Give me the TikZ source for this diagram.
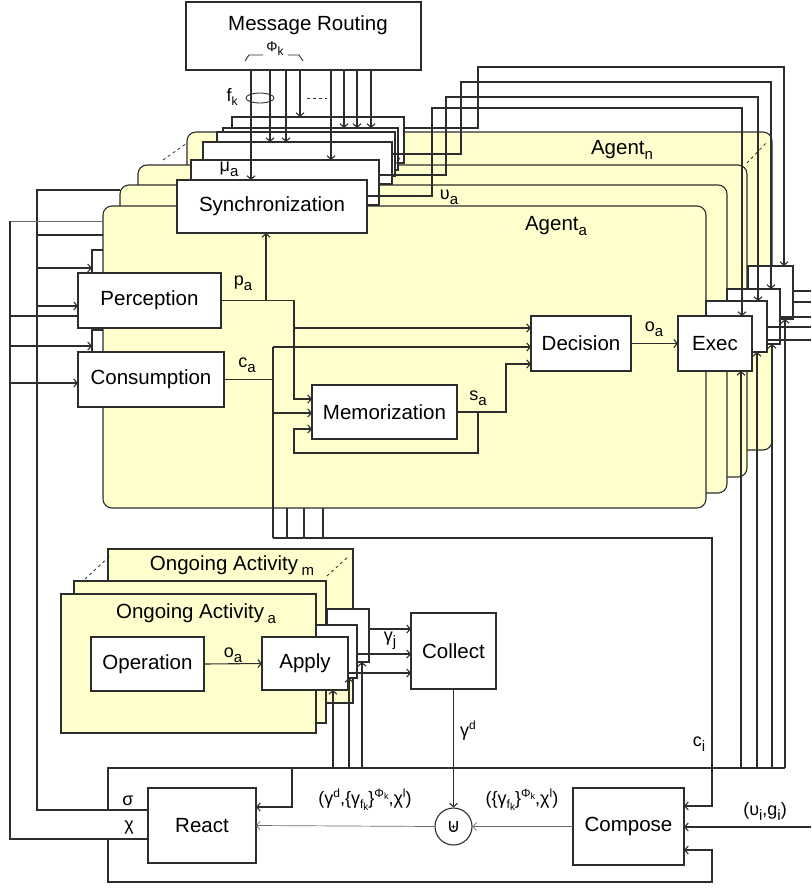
\documentclass[tikz,border=0pt]{standalone}
\usepackage{fontspec}
\setmainfont{Liberation Sans}
\newfontfamily\dejavu{DejaVu Sans}
\usetikzlibrary{arrows.meta,calc}
\definecolor{ay}{RGB}{255,255,206}
\definecolor{lc}{RGB}{45,45,45}
\newcommand\sbs[1]{\raisebox{-5pt}{\fontsize{15}{15}\selectfont #1}}
\newcommand\ssb[1]{\raisebox{-4pt}{\fontsize{12}{12}\selectfont #1}}
\newcommand\ssp[1]{\raisebox{7pt}{\fontsize{12}{12}\selectfont #1}}
\newcommand\gfk{\{γ\ssb{f\raisebox{-2pt}{\fontsize{10}{10}\selectfont k}}\}\ssp{Φ\raisebox{-2pt}{\fontsize{9}{9}\selectfont k}}}
\tikzset{
 ln/.style={line width=1.1pt, draw=lc},
 thinln/.style={line width=0.7pt, draw=lc!70},
 ar/.style={ln, -{Straight Barb[length=3.5pt,width=8pt]}},
 tar/.style={thinln, -{Straight Barb[length=3.5pt,width=8pt]}},
 wb/.style={draw=lc, line width=1.1pt, fill=white, inner sep=0pt, outer sep=0pt, anchor=north west, font=\fontsize{20.5}{24}\selectfont},
 yb/.style={wb, fill=ay, rounded corners=9pt},
 ob/.style={wb, fill=ay},
 lab/.style={inner sep=0pt, outer sep=0pt, font=\fontsize{18}{20}\selectfont},
 big/.style={inner sep=0pt, outer sep=0pt, font=\fontsize{20.5}{24}\selectfont},
 dsh/.style={line width=0.8pt, draw=lc, dash pattern=on 3pt off 3pt},
}
\begin{document}
\begin{tikzpicture}[x=1pt,y=-1pt]
\useasboundingbox (0,0) rectangle (811,888);
% ---- agents (back) ----
\node[yb, minimum width=585pt, minimum height=318pt] (agn) at (187,132) {};
\node[yb, minimum width=609pt, minimum height=312pt] (ag3) at (138,165) {};
\node[yb, minimum width=607pt, minimum height=308pt] (ag2) at (120,185) {};
\draw[dsh] (163,160) -- (187,143);
\draw[dsh] (747,163) -- (767,142);
\node[big] (agnl) at (622,150) {Agent\sbs{n}};
% ---- synchronization stack ----
\node[wb, minimum width=172pt, minimum height=46pt] (sb6) at (232,117) {};
\node[wb, minimum width=175pt, minimum height=42pt] (sb5) at (223,128) {};
\node[wb, minimum width=178pt, minimum height=44pt] (sb4) at (217,132) {};
\node[wb, minimum width=189pt, minimum height=42pt] (sb3) at (203,142) {};
\node[wb, minimum width=188pt, minimum height=45pt] (sb2) at (191,160) {};
\draw[dsh] (395,165) -- (402,155);
\node[wb, minimum width=140pt, minimum height=55pt] (pcp) at (92,250) {};
\node[wb, minimum width=140pt, minimum height=55pt] (ccp) at (92,330) {};
% ---- agent a ----
\node[yb, minimum width=603pt, minimum height=302pt] (aga) at (103,206) {};
\node[big] (agal) at (556,226) {Agent\sbs{a}};
\node[wb, minimum width=190pt, minimum height=53pt] (sync) at (177,180) {Synchronization};
\node[wb, minimum width=143pt, minimum height=55pt] (perc) at (78,273) {Perception};
\node[wb, minimum width=146pt, minimum height=55pt] (cons) at (78,352) {Consumption};
\node[wb, minimum width=145pt, minimum height=54pt] (memo) at (312,385) {Memorization};
\node[wb, minimum width=100pt, minimum height=55pt] (dec) at (531,316) {Decision};
\node[wb, minimum width=45pt, minimum height=53pt] (ex4) at (748,266) {};
\node[wb, minimum width=53pt, minimum height=55pt] (ex3) at (727,289) {};
\node[wb, minimum width=61pt, minimum height=51pt] (ex2) at (706,301) {};
\node[wb, minimum width=74pt, minimum height=55pt] (exec) at (678,316) {Exec};
% ---- message routing ----
\node[wb, minimum width=235pt, minimum height=68pt] (mr) at (186,2) {};
\node[big] (mrl) at (308,25) {Message Routing};
\node[inner sep=0pt, font=\fontsize{14}{15}\selectfont] (phik) at (275,49) {Φ\ssb{k}};
\draw[ln, line width=0.9pt] (245,61) -- (249,55) -- (263,55);
\draw[ln, line width=0.9pt] (288,55) -- (299,55) -- (303,61);
\node[lab] (fk) at (232,97) {f\ssb{k}};
\draw[ln, line width=0.9pt] (260,98) ellipse [x radius=14pt, y radius=5pt];
\draw[dsh] (307,98) -- (327,98);
\node[lab] (mua) at (229,169) {μ\sbs{a}};
\node[lab] (upa) at (449,197) {υ\sbs{a}};
\node[lab] (pal) at (243,283) {p\sbs{a}};
\node[lab] (cal) at (247,365) {c\sbs{a}};
\node[lab] (sal) at (478,398) {s\sbs{a}};
\node[lab] (oal) at (654,329) {o\sbs{a}};
% ---- ongoing activities ----
\node[ob, minimum width=245pt, minimum height=154pt] (oam) at (108,549) {};
\node[ob, minimum width=252pt, minimum height=142pt] (oa2) at (74,581) {};
\draw[dsh] (85,579) -- (110,556);
\draw[dsh] (327,576) -- (349,556);
\node[big] (oaml) at (232,566) {Ongoing Activity\,\sbs{m}};
\node[wb, minimum width=42pt, minimum height=53pt] (ac2) at (327,609) {};
\node[wb, minimum width=41pt, minimum height=53pt] (ac1) at (316,625) {};
\node[ob, minimum width=255pt, minimum height=139pt] (oaa) at (61,594) {};
\node[big] (oaal) at (196,614) {Ongoing Activity\,\sbs{a}};
\node[wb, minimum width=113pt, minimum height=54pt] (oper) at (91,637) {Operation};
\node[wb, minimum width=86pt, minimum height=53pt] (apply) at (262,637) {Apply};
\node[lab] (oal2) at (233,655) {o\sbs{a}};
\node[wb, minimum width=85pt, minimum height=76pt] (coll) at (411,613) {Collect};
\node[lab] (gjl) at (390,641) {γ\sbs{j}};
% ---- bottom ----
\node[wb, minimum width=108pt, minimum height=75pt] (react) at (148,788) {React};
\node[wb, minimum width=111pt, minimum height=77pt] (comp) at (573,788) {Compose};
\node[draw=lc, line width=1.1pt, circle, minimum size=37pt, inner sep=0pt, fill=white, font=\dejavu\fontsize{19}{19}\selectfont] (cup) at (453.5,826.5) {⊎};
\node[lab] (gdl) at (468,731) {γ\ssp{d}};
\node[lab] (cil) at (699,744) {c\sbs{i}};
\node[lab] (sgl) at (128,801) {σ};
\node[lab] (chl) at (129,828) {χ};
\node[lab, font=\fontsize{18}{19}\selectfont] (l1) at (365,800) {(γ\ssp{d},\gfk,χ\ssp{l})};
\node[lab, font=\fontsize{18}{19}\selectfont] (l2) at (522,800) {(\gfk,χ\ssp{l})};
\node[lab] (ugl) at (765,811) {(υ\sbs{i},g\sbs{i})};
% ==== connectors ====
% message routing
\draw[ar] ($(mr.south)+(-52.5,0)$) -- ($(sync.north)+(-21,0)$);
\draw[ar] ($(mr.south)+(-33.5,0)$) -- ($(sb3.north)+(-27.5,0)$);
\draw[ar] ($(mr.south)+(-17.5,0)$) -- ($(sb3.north)+(-11.5,0)$);
\draw[ar] ($(mr.south)+(-3.5,0)$) -- ($(sb6.north)+(-18,0)$);
\draw[ar] ($(mr.south)+(27.5,0)$) -- ($(sb2.north)+(46,0)$);
\draw[ar] ($(mr.south)+(40.5,0)$) -- ($(sb5.north)+(33.5,0)$);
\draw[ar] ($(mr.south)+(53.5,0)$) -- ($(sb5.north)+(46.5,0)$);
\draw[ar] ($(mr.south)+(67.5,0)$) -- ($(sb5.north)+(60.5,0)$);
% upsilon loops
\draw[ar] ($(sync.east)+(0,-10.5)$) -- (432,196) -- (432,108) -- (742,108) -- ($(exec.north)+(27,0)$);
\draw[ar] ($(sb2.east)+(0,-7.5)$) -- (446,175) -- (446,97) -- (758,97) -- ($(ex2.north)+(21.5,0)$);
\draw[ar] ($(sb3.east)+(0,-9)$) -- (461,154) -- (461,82) -- (771,82) -- ($(ex3.north)+(17.5,0)$);
\draw[ar] ($(sb6.east)+(0,-12)$) -- (478,128) -- (478,67) -- (784,67) -- ($(ex4.north)+(13.5,0)$);
% p_a
\draw[ar] (perc.east) -| ($(memo.west)+(-18,-13)$) -- ($(memo.west)+(0,-13)$);
\draw[ar] ($(perc.east)+(45,0)$) -- ($(sync.south)+(-6,0)$);
\draw[ar] (294,328) -- ($(dec.west)+(0,-15.5)$);
% c_a
\draw[ln] (cons.east) -- (273,379.5);
\draw[ln] (273,347) -- (273,538);
\draw[ar] (273,347) -- ($(dec.west)+(0,3.5)$);
\draw[ar] (273,413) -- ($(memo.west)+(0,1)$);
% memorization
\draw[ar] (478,412) -- (478,453) -- (294,453) -- (294,429) -- ($(memo.west)+(0,17)$);
\draw[ar] (memo.east) -- (506,412) -- (506,364) -- ($(dec.west)+(0,20.5)$);
\draw[ar] (dec.east) -- (exec.west);
% left inputs
\draw[ln] ($(react.west)+(0,-15.5)$) -- (37,810) -- (37,190) -- (120,190);
\draw[thinln] (103,221) -- (10,221);
\draw[ln] ($(react.west)+(0,13.5)$) -- (10,839) -- (10,221);
\draw[ln] (37,235) -- (103,235);
\draw[ar] (37,268) -- ($(pcp.west)+(0,-9.5)$);
\draw[ar] (37,306) -- ($(perc.west)+(0,5.5)$);
\draw[ln] (10,316) -- ($(perc.west)+(0,15.5)$);
\draw[ar] (10,346) -- ($(ccp.west)+(0,-11.5)$);
\draw[ar] (10,383) -- ($(cons.west)+(0,3.5)$);
% sigma broadcast
\draw[ln] (108,810) -- (108,768) -- (785,768);
\draw[ar] (292,768) -- (292,807) -- ($(react.east)+(0,-18.5)$);
\draw[ar] (108,839) -- (108,882) -- (712,882) -- (712,850) -- ($(comp.east)+(0,23.5)$);
\draw[ar] (273,538) -- (712,538) -- (712,806) -- ($(comp.east)+(0,-20.5)$);
\draw[ln] (287,508) -- (287,538);
\draw[ln] (304,508) -- (304,538);
\draw[ln] (323,508) -- (323,538);
\draw[ar] (811,827) -- ($(comp.east)+(0,0.5)$);
\draw[tar] (comp.west) -- (cup.east);
\draw[tar] (cup.west) -- (react.east);
\draw[ar] (coll.south) -- (cup.north);
% exec inputs / outputs
\draw[ar] (741,768) -- ($(exec.south)+(26,0)$);
\draw[ar] (757,768) -- ($(ex2.south)+(20.5,0)$);
\draw[ar] (772,768) -- ($(ex3.south)+(18.5,0)$);
\draw[ar] (785,768) -- ($(ex4.south)+(14.5,0)$);
\draw[ln] ($(ex4.east)+(0,-1.5)$) -- (811,291);
\draw[ln] ($(ex4.east)+(0,9.5)$) -- (811,302);
\draw[ln] ($(ex3.east)+(0,0.5)$) -- (811,317);
\draw[ln] ($(ex2.east)+(0,0.5)$) -- (811,327);
\draw[ln] ($(ex2.east)+(0,13.5)$) -- (811,340);
% apply
\draw[ar] (oper.east) -- (apply.west);
\draw[ar] ($(ac2.east)+(0,-6.5)$) -- ($(coll.west)+(0,-22)$);
\draw[ar] ($(ac1.east)+(0,2.5)$) -- ($(coll.west)+(0,3)$);
\draw[ar] ($(apply.east)+(0,9.5)$) -- ($(coll.west)+(0,22)$);
\draw[ar] (333,768) -- ($(apply.south)+(28,0)$);
\draw[ar] (349,768) -- ($(ac1.south)+(12.5,0)$);
\draw[ar] (362,768) -- ($(ac2.south)+(14,0)$);
\end{tikzpicture}
\end{document}
